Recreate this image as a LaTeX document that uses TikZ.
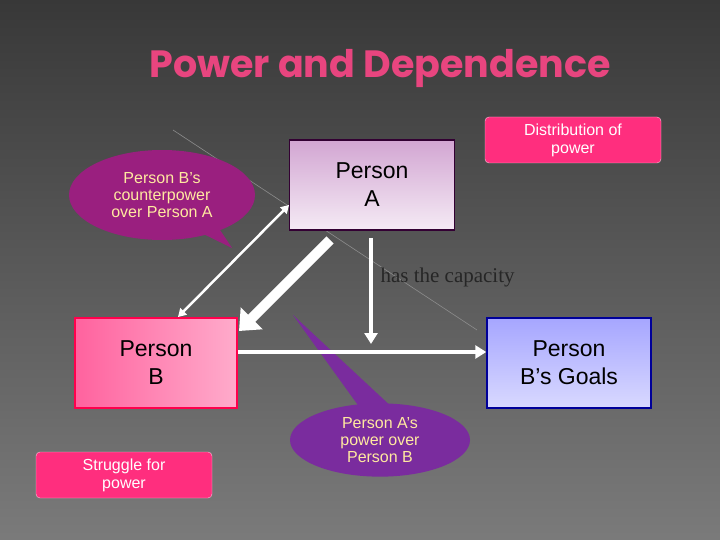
\documentclass[tikz,border=0pt]{standalone}
\usepackage{fontspec}
\setmainfont{Liberation Sans}
\newfontfamily\titlefont{Poppins}
\newfontfamily\serifx{Liberation Serif}
\usetikzlibrary{arrows.meta,shapes.geometric}
\definecolor{titlepink}{HTML}{E8457F}
\definecolor{hotpink}{HTML}{FF2E7E}
\definecolor{calmag}{HTML}{9A1F7F}
\definecolor{calpur}{HTML}{7A2C9E}
\definecolor{txtyel}{HTML}{FFE9A0}
\tikzset{
  box/.style={draw, line width=1.5pt, minimum width=165pt, minimum height=90pt, align=center, font=\fontsize{23}{28}\selectfont},
  pinkbox/.style={draw=white!70!hotpink, fill=hotpink, rounded corners=4pt, minimum width=176pt, minimum height=46pt, align=center, text=white, font=\fontsize{16}{18}\selectfont},
  warr/.style={white, line width=3.5pt, -{Triangle[length=11pt,width=13pt]}},
  callt/.style={font=\fontsize{16}{17}\selectfont, text=txtyel, align=center}
}
\begin{document}
\begin{tikzpicture}[x=1pt,y=-1pt]
\useasboundingbox (0,0) rectangle (720,540);
\shade[top color=black!78, bottom color=black!52] (0,0) rectangle (720,540);
\draw[black!45, line width=0.6pt] (173,130) -- (477,330);
\node[font=\titlefont\bfseries\fontsize{38}{42}\selectfont, text=titlepink] (title) at (380,68) {Power and Dependence};
% callout 1
\fill[calmag] (185,225) -- (232,248) -- (210,215) -- cycle;
\node[ellipse, fill=calmag, minimum width=186pt, minimum height=90pt, callt] (c1) at (162,195) {Person B's\\counterpower\\over Person A};
% boxes
\node[box, draw=black!60!violet, top color=violet!35!white, bottom color=violet!8!white] (A) at (372,185) {Person\\A};
\node[box, draw=red!70!magenta, left color=hotpink!75!white, right color=hotpink!40!white, minimum width=162pt] (B) at (156,363) {Person\\B};
\node[box, draw=blue!60!black, top color=blue!35!white, bottom color=blue!15!white, minimum width=164pt] (G) at (569,363) {Person\\B’s Goals};
\node[pinkbox] (D) at (573,140) {Distribution of\\power};
\node[pinkbox] (S) at (124,475) {Struggle for\\power};
% callout 2
\fill[calpur] (293,315) -- (360,408) -- (395,410) -- cycle;
\node[ellipse, fill=calpur, minimum width=180pt, minimum height=72pt, callt] (c2) at (380,440) {Person A's\\power over\\Person B};
% arrows
\coordinate (bt) at (178,317);
\coordinate (at) at (289,205);
\draw[white, line width=2.5pt, {Triangle[length=8pt,width=9pt]}-{Triangle[length=8pt,width=9pt]}] (bt) -- (at);
\coordinate (a1) at (330,240);
\coordinate (b1) at (239,331);
\draw[white, line width=10pt, -{Triangle[length=18pt,width=30pt]}] (a1) -- (b1);
\coordinate (a2) at (371,238);
\coordinate (h) at (371,344);
\draw[warr] (a2) -- (h);
\draw[warr] (B.east |- 0,352) -- (G.west |- 0,352);
\node[font=\serifx\fontsize{21}{22}\selectfont, text=black!85, anchor=west] (cap) at (377,277) {has the capacity};
\end{tikzpicture}
\end{document}
